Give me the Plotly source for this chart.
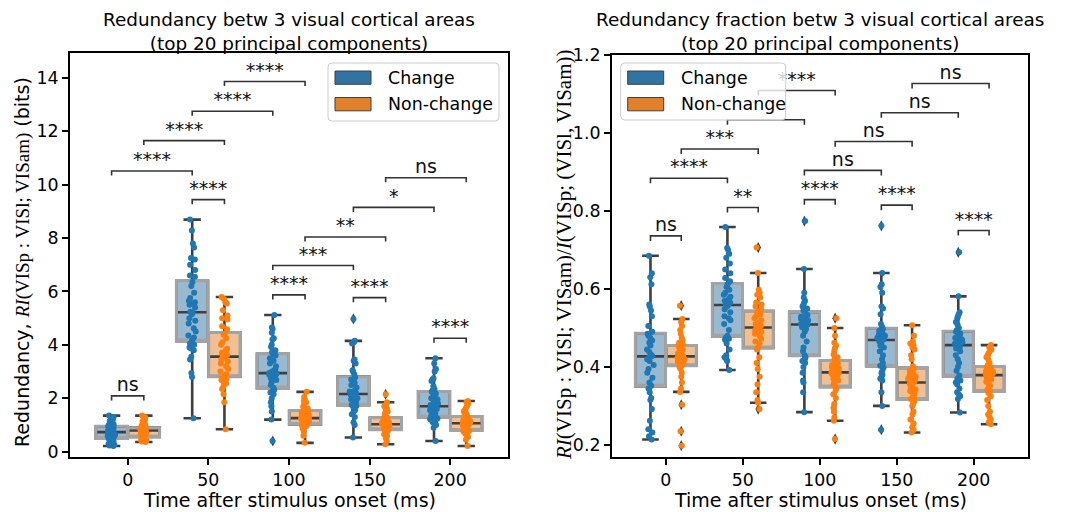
import numpy as np
import plotly.graph_objects as go

W, H = 1072, 512
FONT = "DejaVu Sans"
SERIF = "Liberation Serif"

times = [0, 50, 100, 150, 200]
time_labels = ["0", "50", "100", "150", "200"]
conditions = ["Change", "Non-change"]
left_yticks = [0, 2, 4, 6, 8, 10, 12, 14]
right_yticks = [0.2, 0.4, 0.6, 0.8, 1.0, 1.2]
right_yticklabels = ["0.2", "0.4", "0.6", "0.8", "1.0", "1.2"]

# ---------------- left panel: redundancy (bits) ----------------
red_change_0 = [0.21, 0.23, 0.26, 0.30, 0.35, 0.38, 0.41, 0.44, 0.46, 0.48, 0.50, 0.53, 0.56, 0.59, 0.62, 0.64, 0.66, 0.68, 0.70, 0.72,
                0.74, 0.76, 0.78, 0.80, 0.82, 0.84, 0.87, 0.89, 0.92, 0.94, 0.97, 1.00, 1.04, 1.08, 1.12, 1.16, 1.21, 1.25, 1.30, 1.35]
red_nonchange_0 = [0.36, 0.38, 0.41, 0.43, 0.45, 0.47, 0.49, 0.51, 0.52, 0.53, 0.56, 0.59, 0.62, 0.65, 0.68, 0.70, 0.72, 0.74, 0.76, 0.78,
                   0.80, 0.81, 0.82, 0.83, 0.84, 0.85, 0.86, 0.87, 0.88, 0.89, 0.93, 0.97, 1.01, 1.05, 1.09, 1.13, 1.18, 1.23, 1.28, 1.35]
red_change_50 = [1.25, 2.80, 2.95, 3.45, 3.55, 3.80, 3.85, 3.90, 4.00, 4.05, 4.17, 4.28, 4.35, 4.50, 4.62, 4.80, 4.90, 5.00, 5.15, 5.20,
                 5.24, 5.40, 5.50, 5.55, 5.60, 5.65, 5.75, 5.95, 6.20, 6.35, 6.55, 6.60, 6.80, 7.00, 7.20, 7.25, 7.65, 7.80, 8.28, 8.69]
red_nonchange_50 = [0.84, 1.85, 2.15, 2.35, 2.45, 2.55, 2.62, 2.68, 2.72, 2.75, 2.83, 2.90, 3.00, 3.10, 3.20, 3.30, 3.38, 3.45, 3.50, 3.54,
                    3.58, 3.62, 3.70, 3.80, 3.85, 4.00, 4.10, 4.25, 4.38, 4.42, 4.58, 4.70, 4.95, 5.00, 5.10, 5.30, 5.55, 5.60, 5.72, 5.79]
red_change_100 = [0.40, 1.20, 1.50, 1.70, 1.85, 2.00, 2.15, 2.22, 2.28, 2.32, 2.40, 2.50, 2.60, 2.68, 2.75, 2.80, 2.85, 2.88, 2.91, 2.93,
                  2.95, 3.00, 3.05, 3.10, 3.20, 3.30, 3.40, 3.50, 3.60, 3.65, 3.72, 3.80, 3.92, 4.00, 4.20, 4.25, 4.45, 4.60, 4.65, 5.12]
red_nonchange_100 = [0.33, 0.60, 0.75, 0.82, 0.88, 0.92, 0.95, 0.97, 0.99, 1.00, 1.03, 1.06, 1.09, 1.12, 1.15, 1.18, 1.20, 1.22, 1.24, 1.25,
                     1.26, 1.28, 1.30, 1.33, 1.36, 1.40, 1.44, 1.48, 1.51, 1.53, 1.57, 1.62, 1.68, 1.75, 1.80, 1.85, 1.90, 1.95, 2.05, 2.24]
red_change_150 = [0.53, 1.00, 1.10, 1.30, 1.40, 1.50, 1.55, 1.62, 1.68, 1.71, 1.75, 1.80, 1.85, 1.90, 1.95, 2.00, 2.05, 2.10, 2.13, 2.15,
                  2.17, 2.20, 2.25, 2.30, 2.40, 2.50, 2.58, 2.62, 2.70, 2.78, 2.90, 3.00, 3.05, 3.30, 3.40, 3.45, 4.05, 4.10, 4.15, 4.97]
red_nonchange_150 = [0.28, 0.40, 0.50, 0.58, 0.65, 0.70, 0.74, 0.77, 0.79, 0.80, 0.83, 0.86, 0.89, 0.92, 0.95, 0.97, 0.99, 1.00, 1.01, 1.02,
                     1.03, 1.05, 1.07, 1.09, 1.11, 1.13, 1.16, 1.19, 1.22, 1.26, 1.30, 1.35, 1.42, 1.50, 1.55, 1.62, 1.70, 1.78, 1.85, 2.15]
red_change_200 = [0.40, 0.90, 1.00, 1.05, 1.10, 1.15, 1.18, 1.21, 1.24, 1.26, 1.30, 1.35, 1.40, 1.45, 1.50, 1.55, 1.60, 1.64, 1.67, 1.69,
                  1.71, 1.75, 1.80, 1.88, 1.95, 2.00, 2.05, 2.10, 2.18, 2.24, 2.30, 2.35, 2.45, 2.65, 2.70, 2.75, 3.00, 3.10, 3.30, 3.50]
red_nonchange_200 = [0.21, 0.45, 0.55, 0.62, 0.68, 0.72, 0.74, 0.76, 0.77, 0.78, 0.80, 0.85, 0.90, 0.93, 0.96, 0.99, 1.01, 1.03, 1.05, 1.06,
                     1.07, 1.09, 1.11, 1.13, 1.16, 1.19, 1.22, 1.25, 1.28, 1.30, 1.35, 1.40, 1.45, 1.50, 1.55, 1.62, 1.70, 1.80, 1.85, 1.90]

# ---------------- right panel: redundancy fraction ----------------
frac_change_0 = [0.214, 0.222, 0.232, 0.240, 0.262, 0.292, 0.315, 0.320, 0.335, 0.345, 0.352, 0.360, 0.372, 0.385, 0.395, 0.405, 0.415, 0.420, 0.424, 0.426,
                 0.428, 0.432, 0.438, 0.445, 0.455, 0.462, 0.468, 0.475, 0.480, 0.485, 0.490, 0.505, 0.530, 0.545, 0.555, 0.560, 0.612, 0.630, 0.640, 0.685]
frac_nonchange_0 = [0.198, 0.235, 0.303, 0.336, 0.345, 0.360, 0.375, 0.385, 0.395, 0.400, 0.404, 0.408, 0.411, 0.414, 0.417, 0.420, 0.422, 0.424, 0.425, 0.426,
                    0.428, 0.430, 0.432, 0.435, 0.438, 0.441, 0.444, 0.447, 0.450, 0.454, 0.458, 0.462, 0.468, 0.475, 0.485, 0.495, 0.505, 0.515, 0.523, 0.557]
frac_change_50 = [0.392, 0.415, 0.420, 0.425, 0.430, 0.445, 0.460, 0.470, 0.472, 0.475, 0.480, 0.495, 0.510, 0.520, 0.525, 0.530, 0.540, 0.548, 0.555, 0.558,
                  0.560, 0.565, 0.570, 0.575, 0.580, 0.585, 0.590, 0.598, 0.605, 0.612, 0.620, 0.628, 0.640, 0.650, 0.665, 0.680, 0.690, 0.700, 0.705, 0.759]
frac_nonchange_50 = [0.292, 0.308, 0.315, 0.335, 0.355, 0.375, 0.395, 0.410, 0.425, 0.445, 0.450, 0.460, 0.465, 0.472, 0.480, 0.485, 0.490, 0.494, 0.497, 0.500,
                     0.502, 0.505, 0.510, 0.515, 0.520, 0.525, 0.530, 0.535, 0.538, 0.542, 0.548, 0.555, 0.560, 0.565, 0.578, 0.585, 0.590, 0.598, 0.641, 0.706]
frac_change_100 = [0.284, 0.335, 0.360, 0.365, 0.385, 0.400, 0.410, 0.415, 0.420, 0.425, 0.430, 0.440, 0.450, 0.465, 0.480, 0.490, 0.497, 0.502, 0.506, 0.508,
                   0.510, 0.512, 0.515, 0.518, 0.520, 0.523, 0.526, 0.529, 0.533, 0.540, 0.545, 0.550, 0.555, 0.560, 0.565, 0.570, 0.578, 0.590, 0.651, 0.774]
frac_nonchange_100 = [0.215, 0.262, 0.270, 0.285, 0.295, 0.305, 0.320, 0.330, 0.340, 0.345, 0.350, 0.355, 0.360, 0.365, 0.370, 0.374, 0.378, 0.381, 0.384, 0.385,
                      0.387, 0.389, 0.391, 0.393, 0.396, 0.399, 0.402, 0.405, 0.410, 0.415, 0.420, 0.425, 0.432, 0.440, 0.448, 0.455, 0.462, 0.480, 0.500, 0.525]
frac_change_150 = [0.239, 0.300, 0.335, 0.365, 0.370, 0.375, 0.380, 0.385, 0.390, 0.398, 0.403, 0.410, 0.420, 0.430, 0.440, 0.450, 0.455, 0.460, 0.465, 0.468,
                   0.470, 0.472, 0.475, 0.478, 0.480, 0.483, 0.486, 0.489, 0.493, 0.498, 0.503, 0.510, 0.535, 0.550, 0.555, 0.590, 0.605, 0.612, 0.641, 0.762]
frac_nonchange_150 = [0.232, 0.238, 0.245, 0.255, 0.265, 0.278, 0.285, 0.300, 0.305, 0.312, 0.318, 0.322, 0.328, 0.332, 0.338, 0.342, 0.348, 0.352, 0.356, 0.359,
                      0.361, 0.365, 0.370, 0.372, 0.375, 0.378, 0.382, 0.386, 0.390, 0.396, 0.402, 0.420, 0.430, 0.445, 0.450, 0.455, 0.460, 0.465, 0.480, 0.507]
frac_change_200 = [0.283, 0.318, 0.325, 0.330, 0.335, 0.345, 0.355, 0.360, 0.365, 0.370, 0.378, 0.390, 0.400, 0.410, 0.420, 0.430, 0.440, 0.447, 0.452, 0.455,
                   0.457, 0.460, 0.463, 0.466, 0.470, 0.474, 0.478, 0.482, 0.486, 0.490, 0.495, 0.500, 0.508, 0.515, 0.525, 0.530, 0.535, 0.540, 0.581, 0.694]
frac_nonchange_200 = [0.253, 0.258, 0.265, 0.272, 0.278, 0.285, 0.300, 0.315, 0.325, 0.334, 0.338, 0.342, 0.348, 0.352, 0.358, 0.362, 0.368, 0.372, 0.376, 0.378,
                      0.380, 0.382, 0.384, 0.386, 0.388, 0.390, 0.392, 0.395, 0.398, 0.400, 0.405, 0.410, 0.418, 0.425, 0.430, 0.435, 0.440, 0.445, 0.450, 0.456]

red_change = [red_change_0, red_change_50, red_change_100, red_change_150, red_change_200]
red_nonchange = [red_nonchange_0, red_nonchange_50, red_nonchange_100, red_nonchange_150, red_nonchange_200]
frac_change = [frac_change_0, frac_change_50, frac_change_100, frac_change_150, frac_change_200]
frac_nonchange = [frac_nonchange_0, frac_nonchange_50, frac_nonchange_100, frac_nonchange_150, frac_nonchange_200]

C, N = "Change", "Non-change"
# significance annotations: (group 1, group 2, bracket height, label); label None = hidden under legend
left_brackets = [
    ((0, C), (0, N), 2.09, "ns"),
    ((50, C), (50, N), 9.44, "****"),
    ((0, C), (50, C), 10.51, "****"),
    ((0, N), (50, N), 11.65, "****"),
    ((50, C), (100, C), 12.75, "****"),
    ((50, N), (100, N), 13.86, "****"),
    ((100, C), (100, N), 5.87, "****"),
    ((100, C), (150, C), 6.97, "***"),
    ((100, N), (150, N), 8.04, "**"),
    ((150, C), (200, C), 9.15, "*"),
    ((150, N), (200, N), 10.26, "ns"),
    ((150, C), (150, N), 5.77, "****"),
    ((200, C), (200, N), 4.25, "****"),
]
right_brackets = [
    ((0, C), (0, N), 0.736, "ns"),
    ((50, C), (50, N), 0.809, "**"),
    ((0, C), (50, C), 0.884, "****"),
    ((0, N), (50, N), 0.959, "***"),
    ((50, C), (100, C), 1.034, None),
    ((50, N), (100, N), 1.109, "****"),
    ((100, C), (100, N), 0.829, "****"),
    ((100, C), (150, C), 0.904, "ns"),
    ((100, N), (150, N), 0.978, "ns"),
    ((150, C), (150, N), 0.815, "****"),
    ((150, C), (200, C), 1.052, "ns"),
    ((150, N), (200, N), 1.127, "ns"),
    ((200, C), (200, N), 0.750, "****"),
]

# ---------------- styling ----------------
DODGE = {C: -10, N: 10}
BOXW = 19.6
point_col = {C: "#1f77b4", N: "#ff7f0e"}
fill_col = {C: "rgba(50,116,161,0.5)", N: "rgba(225,129,44,0.5)"}
patch_col = {C: "#3274a1", N: "#e1812c"}
DARK = "#3f3f3f"
EDGE = "#a3a3a3"


def px(x):
    return x / W


def py(y):
    return 1 - y / H


fig = go.Figure()

panels = [
    dict(data={C: red_change, N: red_nonchange}, xa="x", ya="y", brackets=left_brackets, tick=0.17),
    dict(data={C: frac_change, N: frac_nonchange}, xa="x2", ya="y2", brackets=right_brackets, tick=0.013),
]

for p in panels:
    stats = {}
    for cond in conditions:
        pos, q1s, meds, q3s, lfs, ufs = [], [], [], [], [], []
        ox, oy, sx, sy = [], [], [], []
        for t, vals in zip(times, p["data"][cond]):
            arr = np.asarray(vals, dtype=float)
            q1, med, q3 = np.percentile(arr, [25, 50, 75])
            iqr = q3 - q1
            lo = arr[arr >= q1 - 1.5 * iqr].min()
            hi = arr[arr <= q3 + 1.5 * iqr].max()
            x = t + DODGE[cond]
            pos.append(x); q1s.append(q1); meds.append(med); q3s.append(q3); lfs.append(lo); ufs.append(hi)
            outl = arr[(arr < lo) | (arr > hi)]
            ox += [x] * len(outl); oy += list(outl)
            sx += [x] * len(arr); sy += list(arr)
        stats[cond] = (pos, q1s, meds, q3s, lfs, ufs, ox, oy, sx, sy)

    for cond in conditions:
        pos, q1s, meds, q3s, lfs, ufs, *_ = stats[cond]
        fig.add_trace(go.Box(x=pos, q1=q1s, median=meds, q3=q3s, lowerfence=lfs, upperfence=ufs,
                             width=BOXW, fillcolor=fill_col[cond], line=dict(color=DARK, width=2.6),
                             whiskerwidth=0.55, boxpoints=False, hoverinfo="skip",
                             xaxis=p["xa"], yaxis=p["ya"]))
    for cond in conditions:
        pos, q1s, meds, q3s, lfs, ufs, *_ = stats[cond]
        fig.add_trace(go.Box(x=pos, q1=q1s, median=q1s, q3=q3s, lowerfence=q1s, upperfence=q3s,
                             width=BOXW, fillcolor="rgba(0,0,0,0)", line=dict(color=EDGE, width=3),
                             whiskerwidth=0, boxpoints=False, hoverinfo="skip",
                             xaxis=p["xa"], yaxis=p["ya"]))
    for cond in conditions:
        ox, oy = stats[cond][6], stats[cond][7]
        if len(oy):
            fig.add_trace(go.Box(x=ox, y=oy, width=BOXW, boxpoints="all", jitter=0, pointpos=0,
                                 fillcolor="rgba(0,0,0,0)", line=dict(color="rgba(0,0,0,0)", width=0),
                                 marker=dict(symbol="diamond-tall", color=DARK, size=8),
                                 hoverinfo="skip", xaxis=p["xa"], yaxis=p["ya"]))
    for cond in conditions:
        sx, sy = stats[cond][8], stats[cond][9]
        fig.add_trace(go.Box(x=sx, y=sy, width=BOXW, boxpoints="all", jitter=0.28, pointpos=0,
                             fillcolor="rgba(0,0,0,0)", line=dict(color="rgba(0,0,0,0)", width=0),
                             marker=dict(color=point_col[cond], size=6),
                             hoverinfo="skip", xaxis=p["xa"], yaxis=p["ya"]))

    bx, by, tx, ty, tt = [], [], [], [], []
    h = p["tick"]
    for (t1, c1), (t2, c2), yb, lab in p["brackets"]:
        x1 = t1 + DODGE[c1]
        x2 = t2 + DODGE[c2]
        bx += [x1, x1, x2, x2, None]
        by += [yb - h, yb, yb, yb - h, None]
        if lab:
            tx.append((x1 + x2) / 2); ty.append(yb); tt.append(lab)
    fig.add_trace(go.Scatter(x=bx, y=by, mode="lines", line=dict(color="#333333", width=1.6),
                             hoverinfo="skip", xaxis=p["xa"], yaxis=p["ya"]))
    fig.add_trace(go.Scatter(x=tx, y=ty, text=tt, mode="text", textposition="top center",
                             textfont=dict(family=FONT, size=19, color="#111111"),
                             hoverinfo="skip", xaxis=p["xa"], yaxis=p["ya"]))

axis_common = dict(showline=True, mirror=True, linecolor="black", linewidth=2, ticks="outside",
                   ticklen=6, tickwidth=1.6, tickcolor="black", showgrid=False, zeroline=False,
                   tickfont=dict(family=FONT, size=17.4, color="black"))

fig.update_layout(
    width=W, height=H, margin=dict(l=0, r=0, t=0, b=0, autoexpand=False),
    paper_bgcolor="white", plot_bgcolor="white", showlegend=False, boxmode="overlay",
    font=dict(family=FONT, color="black"),
    xaxis=dict(domain=[px(70), px(508)], range=[-35.8, 235.9], tickvals=times, ticktext=time_labels,
               anchor="y", **axis_common),
    yaxis=dict(domain=[py(457), py(53)], range=[-0.2, 14.93], tickvals=left_yticks, anchor="x", **axis_common),
    xaxis2=dict(domain=[px(612), px(1028)], range=[-35, 235.3], tickvals=times, ticktext=time_labels,
                anchor="y2", **axis_common),
    yaxis2=dict(domain=[py(457), py(55)], range=[0.169, 1.2], tickvals=right_yticks,
                ticktext=right_yticklabels, anchor="x2", **axis_common),
)

annotations = []
shapes = []


def text_ann(x, y, text, size=19, xanchor="center", yanchor="middle", angle=0, family=FONT):
    annotations.append(dict(x=px(x), y=py(y), xref="paper", yref="paper", text=text, showarrow=False,
                            xanchor=xanchor, yanchor=yanchor, textangle=angle,
                            font=dict(family=family, size=size, color="black")))


text_ann(289, 31, "Redundancy betw 3 visual cortical areas<br>(top 20 principal components)", size=18.4)
text_ann(820, 31, "Redundancy fraction betw 3 visual cortical areas<br>(top 20 principal components)", size=18.4)
text_ann(289, 500, "Time after stimulus onset (ms)")
text_ann(820, 500, "Time after stimulus onset (ms)")
text_ann(22, 262,
         "Redundancy, <span style=\"font-family:'Liberation Serif'\"><i>RI</i>(VISp : VISl; VISam)</span> (bits)",
         angle=-90)
text_ann(564, 255, "<i>RI</i>(VISp : VISl; VISam)/<i>I</i>(VISp; (VISl, VISam))", size=21, angle=-90, family=SERIF)


def rounded(x0, y0, x1, y1, r=4):
    rx, ry = r / W, r / H
    X0, X1 = px(x0), px(x1)
    Y0, Y1 = py(y0), py(y1)
    return (f"M {X0+rx},{Y0} L {X1-rx},{Y0} Q {X1},{Y0} {X1},{Y0-ry} "
            f"L {X1},{Y1+ry} Q {X1},{Y1} {X1-rx},{Y1} L {X0+rx},{Y1} "
            f"Q {X0},{Y1} {X0},{Y1+ry} L {X0},{Y0-ry} Q {X0},{Y0} {X0+rx},{Y0} Z")


def legend(x0, y0, x1, y1):
    shapes.append(dict(type="path", path=rounded(x0, y0, x1, y1), xref="paper", yref="paper",
                       fillcolor="rgba(255,255,255,0.8)", line=dict(color="#cccccc", width=1), layer="above"))
    for i, cond in enumerate(conditions):
        top = y0 + 8 + i * 26.5
        shapes.append(dict(type="rect", xref="paper", yref="paper", x0=px(x0 + 7), x1=px(x0 + 43),
                           y0=py(top), y1=py(top + 13.3), fillcolor=patch_col[cond],
                           line=dict(color=DARK, width=1), layer="above"))
        text_ann(x0 + 58, top + 6.7, cond, size=17.4, xanchor="left")


legend(328, 63, 499, 121)
legend(620.7, 63, 785.7, 120)

fig.update_layout(annotations=annotations, shapes=shapes)
fig.write_html("out.html", post_script="document.body.style.margin='0';document.body.style.overflow='hidden';")
